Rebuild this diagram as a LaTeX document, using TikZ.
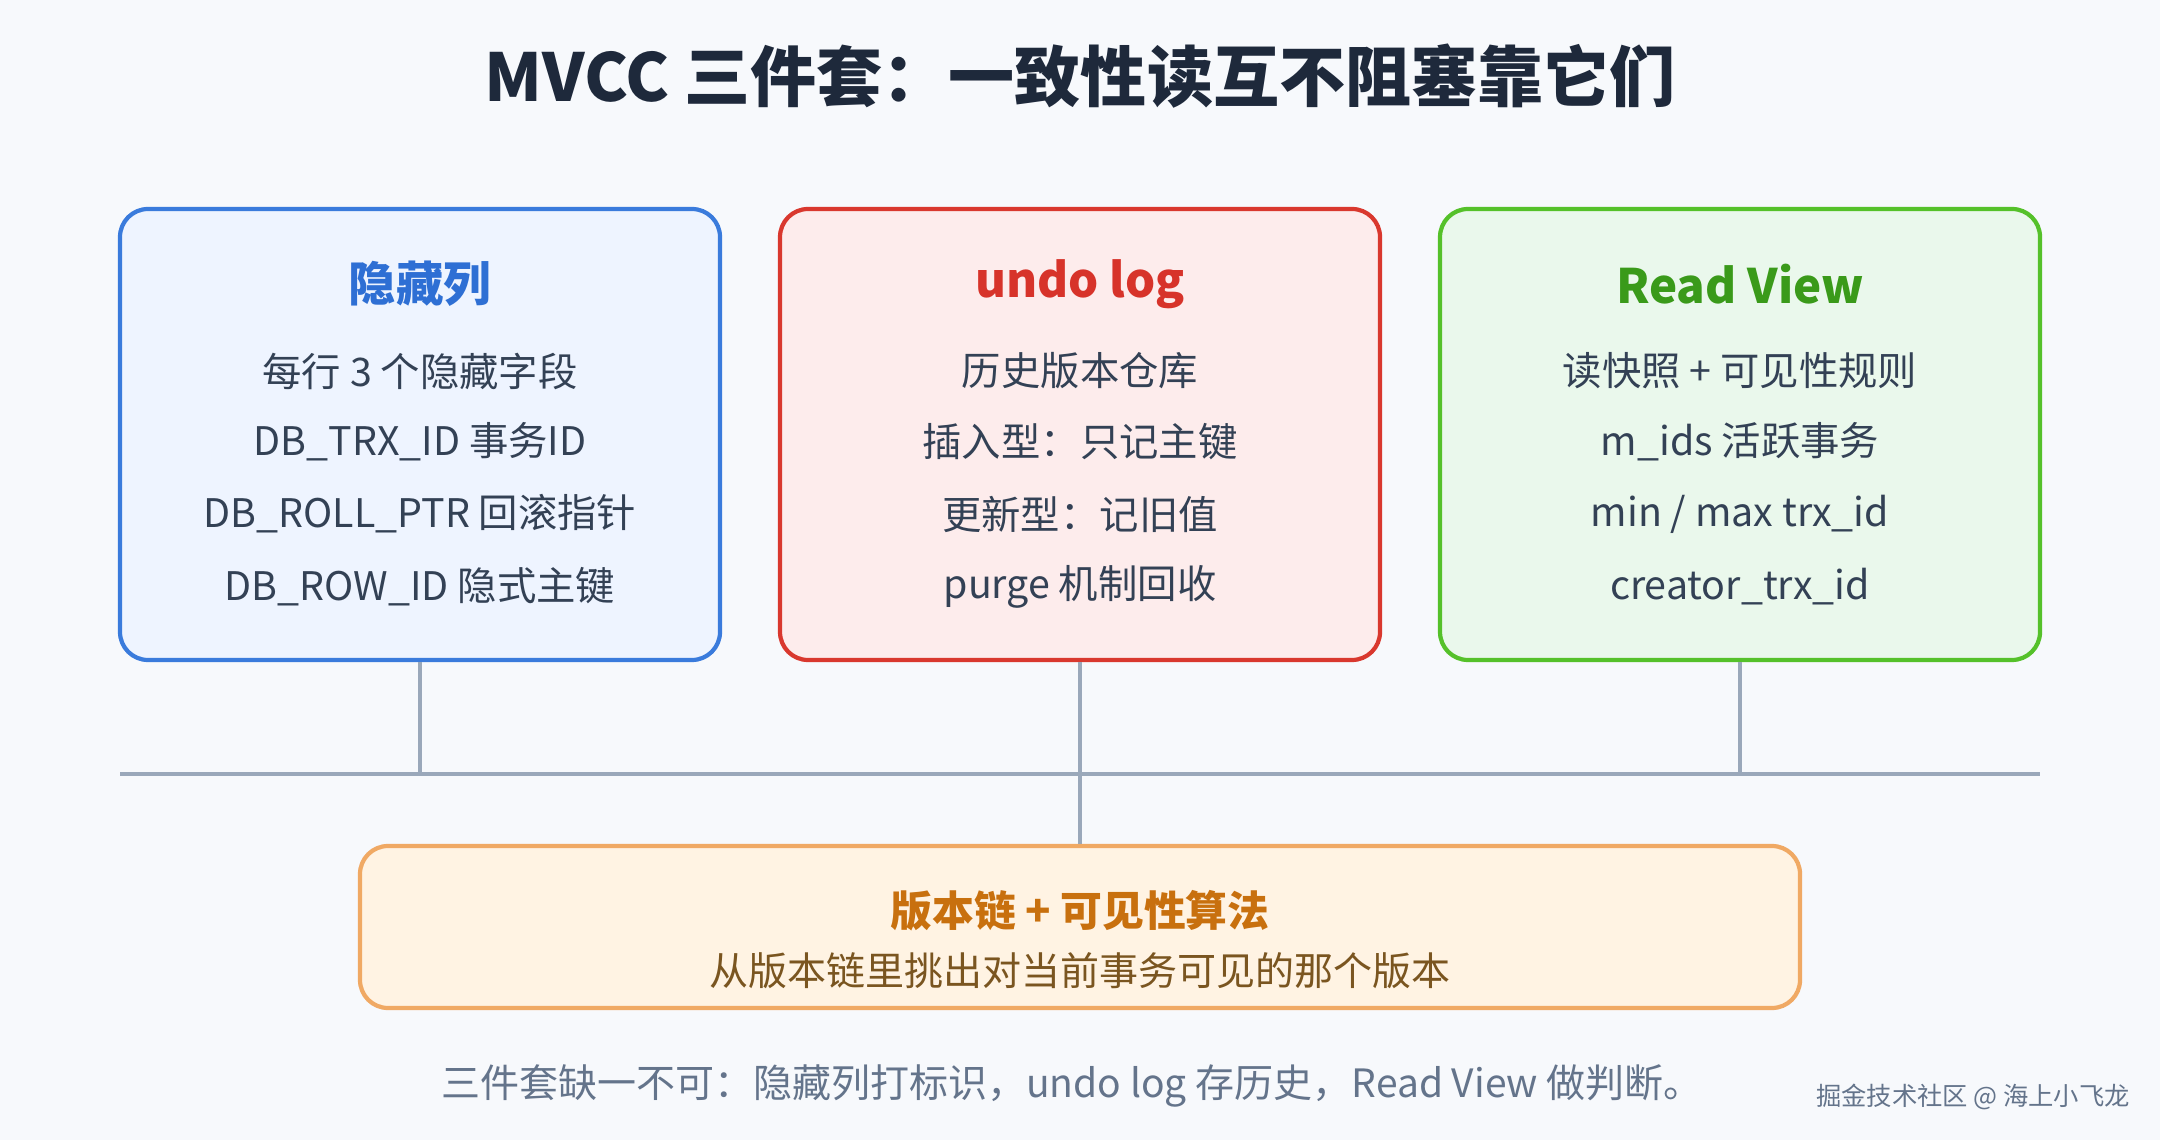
\documentclass[tikz,border=0pt]{standalone}
\usepackage{fontspec}
\setmainfont{Noto Sans CJK SC}
\usepackage{tikz}
\usetikzlibrary{positioning}

\definecolor{bgc}{HTML}{F7F9FC}
\definecolor{titlec}{HTML}{1E293B}
\definecolor{bodyc}{HTML}{334155}
\definecolor{footc}{HTML}{64748B}
\definecolor{wirec}{HTML}{9AA8BA}
\definecolor{blueLine}{HTML}{3A7BDC}
\definecolor{blueFill}{HTML}{EEF4FF}
\definecolor{blueText}{HTML}{2E6FD4}
\definecolor{redLine}{HTML}{D9382E}
\definecolor{redFill}{HTML}{FDECEC}
\definecolor{redText}{HTML}{D7332A}
\definecolor{greenLine}{HTML}{55C12A}
\definecolor{greenFill}{HTML}{EAF8EC}
\definecolor{greenText}{HTML}{3A9A1A}
\definecolor{orangeLine}{HTML}{F0A964}
\definecolor{orangeFill}{HTML}{FFF3E3}
\definecolor{orangeText}{HTML}{C8700E}
\definecolor{brownText}{HTML}{7A5520}

\begin{document}
\begin{tikzpicture}[
    partbox/.style={draw, rounded corners=0.28cm, line width=1.2pt, minimum width=6cm, minimum height=4.51cm},
    head/.style={font=\fontsize{13.5}{15}\selectfont\bfseries},
    item/.style={font=\fontsize{11.2}{13}\selectfont, text=bodyc},
    wire/.style={draw=wirec, line width=1.2pt}
  ]
  \fill[bgc] (0,0) rectangle (21.6,11.4);
  \useasboundingbox (0,0) rectangle (21.6,11.4);

  \draw (10.8,10.64) node[font=\fontsize{18.8}{21}\selectfont\bfseries, text=titlec] (title) {MVCC 三件套：一致性读互不阻塞靠它们};

  % three parts
  \draw (4.2,7.055) node[partbox, draw=blueLine, fill=blueFill] (hidden) {};
  \draw (4.2,8.56) node[head, text=blueText] (hiddenT) {隐藏列};
  \draw (4.2,7.69) node[item] (hiddenA) {每行 3 个隐藏字段};
  \draw (4.2,6.98) node[item] (hiddenB) {DB\_TRX\_ID 事务ID};
  \draw (4.2,6.26) node[item] (hiddenC) {DB\_ROLL\_PTR 回滚指针};
  \draw (4.2,5.53) node[item] (hiddenD) {DB\_ROW\_ID 隐式主键};

  \draw (10.8,7.055) node[partbox, draw=redLine, fill=redFill] (undo) {};
  \draw (10.8,8.56) node[head, text=redText] (undoT) {undo log};
  \draw (10.8,7.69) node[item] (undoA) {历史版本仓库};
  \draw (10.8,6.98) node[item] (undoB) {插入型：只记主键};
  \draw (10.8,6.26) node[item] (undoC) {更新型：记旧值};
  \draw (10.8,5.53) node[item] (undoD) {purge 机制回收};

  \draw (17.4,7.055) node[partbox, draw=greenLine, fill=greenFill] (view) {};
  \draw (17.4,8.56) node[head, text=greenText] (viewT) {Read View};
  \draw (17.4,7.69) node[item] (viewA) {读快照 + 可见性规则};
  \draw (17.4,6.98) node[item] (viewB) {m\_ids 活跃事务};
  \draw (17.4,6.26) node[item] (viewC) {min / max trx\_id};
  \draw (17.4,5.53) node[item] (viewD) {creator\_trx\_id};

  % bus
  \coordinate (busL) at (1.2,3.66);
  \coordinate (busR) at (20.4,3.66);
  \path[wire] (busL) -- (busR);
  \path[wire] (hidden.south) -- (hidden.south |- busL);
  \path[wire] (view.south) -- (view.south |- busL);

  % result
  \draw (10.8,2.13) node[draw=orangeLine, fill=orangeFill, rounded corners=0.28cm, line width=1.2pt, minimum width=14.4cm, minimum height=1.62cm] (algo) {};
  \path[wire] (undo.south) -- (algo.north);
  \draw (10.8,2.29) node[font=\fontsize{11.9}{13}\selectfont\bfseries, text=orangeText] (algoT) {版本链 + 可见性算法};
  \draw (10.8,1.69) node[font=\fontsize{11.1}{13}\selectfont, text=brownText] (algoA) {从版本链里挑出对当前事务可见的那个版本};

  \draw (10.72,0.54) node[font=\fontsize{11.1}{13}\selectfont, text=footc] (note) {三件套缺一不可：隐藏列打标识，undo log 存历史，Read View 做判断。};
  \draw (19.73,0.43) node[font=\fontsize{7.2}{9}\selectfont, text=footc] (mark) {掘金技术社区 @ 海上小飞龙};
\end{tikzpicture}
\end{document}
